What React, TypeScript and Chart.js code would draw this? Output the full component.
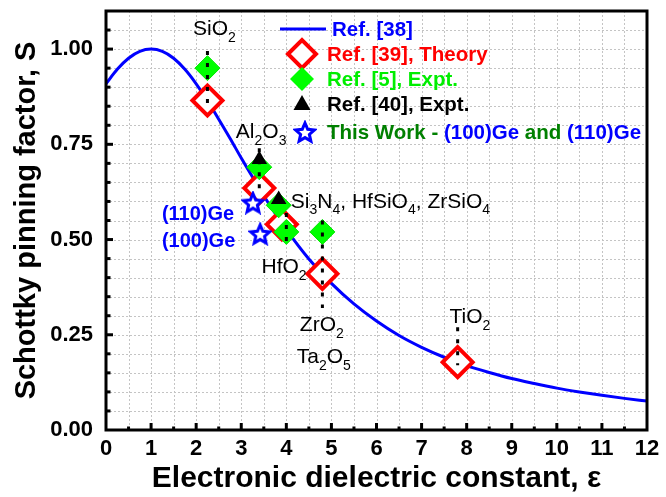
import React, { useEffect, useRef } from 'react';
import { Chart, registerables } from 'chart.js';

Chart.register(...registerables);

const FONT = "'Liberation Sans', Arial, Helvetica, sans-serif";

// Ref. [38] curve
const curveEps = [0, 0.25, 0.5, 0.75, 1, 1.25, 1.5, 1.75, 2, 2.25, 2.5, 2.75, 3, 3.25, 3.5, 3.75, 4, 4.5, 5, 5.5, 6, 6.5, 7, 7.5, 8, 8.5, 9, 9.5, 10, 10.5, 11, 11.5, 12];
const curveS = [0.909, 0.947, 0.976, 0.994, 1.0, 0.994, 0.976, 0.947, 0.909, 0.865, 0.816, 0.766, 0.714, 0.664, 0.615, 0.569, 0.526, 0.449, 0.385, 0.331, 0.286, 0.248, 0.217, 0.191, 0.169, 0.151, 0.135, 0.122, 0.11, 0.1, 0.091, 0.083, 0.076];

// Ref. [39], Theory
const theoryEps = [2.25, 3.4, 3.9, 4.8, 7.8];
const theoryS = [0.865, 0.635, 0.54, 0.41, 0.178];

// Ref. [5], Expt.
const exptEps = [2.25, 3.4, 3.83, 4.0, 4.8];
const exptS = [0.95, 0.69, 0.59, 0.52, 0.52];

// Ref. [40], Expt.
const ref40Eps = [3.4, 3.83];
const ref40S = [0.71, 0.605];

// This work
const workEps = [3.26, 3.42];
const workS = [0.597, 0.515];

// dotted ranges
const rangeEps = [2.25, 3.4, 4.0, 4.8, 7.8];
const rangeLow = [0.84, 0.62, 0.48, 0.32, 0.17];
const rangeHigh = [0.995, 0.74, 0.57, 0.55, 0.27];

const xTicks = [0, 1, 2, 3, 4, 5, 6, 7, 8, 9, 10, 11, 12];
const yTicks = [0, 0.25, 0.5, 0.75, 1.0];

// material labels: [text, isSubscript] parts, anchored at (eps, S)
const matLabels = [
  { eps: 1.93, s: 1.037, parts: [['SiO', 0], ['2', 1]] },
  { eps: 2.88, s: 0.767, parts: [['Al', 0], ['2', 1], ['O', 0], ['3', 1]] },
  { eps: 4.1, s: 0.584, parts: [['Si', 0], ['3', 1], ['N', 0], ['4', 1], [', HfSiO', 0], ['4', 1], [', ZrSiO', 0], ['4', 1]] },
  { eps: 3.45, s: 0.411, parts: [['HfO', 0], ['2', 1]] },
  { eps: 4.3, s: 0.26, parts: [['ZrO', 0], ['2', 1]] },
  { eps: 4.23, s: 0.175, parts: [['Ta', 0], ['2', 1], ['O', 0], ['5', 1]] },
  { eps: 7.62, s: 0.28, parts: [['TiO', 0], ['2', 1]] },
];
const geLabels = ['(110)Ge', '(100)Ge'];
const geLabelEps = [1.24, 1.24];
const geLabelS = [0.552, 0.48];

// canvas is a little taller than the page and shifted up so the plot frame sits where it does in the figure
const SHIFT = 8;

function makeStar(size: number, outerR: number, innerR: number, color: string, lw: number) {
  const c = document.createElement('canvas');
  c.width = size;
  c.height = size;
  const g = c.getContext('2d')!;
  g.beginPath();
  for (let i = 0; i < 10; i++) {
    const r = i % 2 === 0 ? outerR : innerR;
    const a = -Math.PI / 2 + (i * Math.PI) / 5;
    const px = size / 2 + r * Math.cos(a);
    const py = size / 2 + 1 + r * Math.sin(a);
    if (i === 0) g.moveTo(px, py);
    else g.lineTo(px, py);
  }
  g.closePath();
  g.fillStyle = '#ffffff';
  g.fill();
  g.lineWidth = lw;
  g.lineJoin = 'miter';
  g.strokeStyle = color;
  g.stroke();
  return c;
}

function drawRich(ctx: CanvasRenderingContext2D, x: number, y: number, parts: any[], size: number, weight: string, color: string) {
  let cx = x;
  ctx.fillStyle = color;
  ctx.textBaseline = 'alphabetic';
  ctx.textAlign = 'left';
  for (const [t, sub] of parts) {
    if (sub) {
      ctx.font = `${weight} ${Math.round(size * 0.65)}px ${FONT}`;
      ctx.fillText(t, cx, y + size * 0.33);
    } else {
      ctx.font = `${weight} ${size}px ${FONT}`;
      ctx.fillText(t, cx, y);
    }
    cx += ctx.measureText(t).width;
  }
  return cx;
}

export default function App() {
  const ref = useRef<HTMLCanvasElement>(null);

  useEffect(() => {
    document.body.style.margin = '0';
    document.body.style.overflow = 'hidden';
    const star = makeStar(24, 10, 4.6, '#0000ff', 3);

    const decorPlugin = {
      id: 'decor',
      beforeDatasetsDraw(chart: any) {
        const { ctx, chartArea: a, scales } = chart;
        const xs = scales.x;
        const ys = scales.y;
        ctx.save();
        ctx.strokeStyle = '#c4c4c4';
        ctx.lineWidth = 1;
        ctx.setLineDash([2, 2]);
        for (let i = 1; i < 24; i++) {
          const px = Math.round(xs.getPixelForValue(i * 0.5)) + 0.5;
          ctx.beginPath();
          ctx.moveTo(px, a.top);
          ctx.lineTo(px, a.bottom);
          ctx.stroke();
        }
        for (let i = 1; i <= 21; i++) {
          const py = Math.round(ys.getPixelForValue(i * 0.05)) + 0.5;
          ctx.beginPath();
          ctx.moveTo(a.left, py);
          ctx.lineTo(a.right, py);
          ctx.stroke();
        }
        ctx.restore();
      },
      afterDraw(chart: any) {
        const { ctx, chartArea: a, scales } = chart;
        const xs = scales.x;
        const ys = scales.y;
        ctx.save();
        // frame
        ctx.strokeStyle = '#000';
        ctx.lineWidth = 3;
        ctx.setLineDash([]);
        ctx.strokeRect(a.left, a.top, a.right - a.left, a.bottom - a.top);
        // ticks (inward)
        ctx.lineWidth = 3;
        for (let i = 1; i < 24; i++) {
          const px = xs.getPixelForValue(i * 0.5);
          const len = i % 2 === 0 ? 7 : 3.5;
          ctx.beginPath();
          ctx.moveTo(px, a.bottom);
          ctx.lineTo(px, a.bottom - len);
          ctx.stroke();
        }
        for (let i = 1; i <= 21; i++) {
          const py = ys.getPixelForValue(i * 0.05);
          const len = i % 5 === 0 ? 7 : 4.5;
          ctx.beginPath();
          ctx.moveTo(a.left, py);
          ctx.lineTo(a.left + len, py);
          ctx.stroke();
        }
        // material labels
        for (const m of matLabels) {
          drawRich(ctx, xs.getPixelForValue(m.eps), ys.getPixelForValue(m.s), m.parts, 21, 'normal', '#000');
        }
        for (let i = 0; i < geLabels.length; i++) {
          drawRich(ctx, xs.getPixelForValue(geLabelEps[i]), ys.getPixelForValue(geLabelS[i]), [[geLabels[i], 0]], 20, 'bold', '#0000ff');
        }
        // legend
        const lx = a.left + 196;
        const rows = [a.top + 18, a.top + 43, a.top + 68, a.top + 93, a.top + 121];
        ctx.strokeStyle = '#0000ff';
        ctx.lineWidth = 3;
        ctx.beginPath();
        ctx.moveTo(a.left + 174, rows[0]);
        ctx.lineTo(a.left + 220, rows[0]);
        ctx.stroke();
        const diamond = (cx: number, cy: number, r: number) => {
          ctx.beginPath();
          ctx.moveTo(cx - r, cy);
          ctx.lineTo(cx, cy - r);
          ctx.lineTo(cx + r, cy);
          ctx.lineTo(cx, cy + r);
          ctx.closePath();
        };
        diamond(lx, rows[1], 14);
        ctx.fillStyle = '#fff';
        ctx.fill();
        ctx.strokeStyle = '#ff0000';
        ctx.lineWidth = 4;
        ctx.stroke();
        diamond(lx, rows[2], 12);
        ctx.fillStyle = '#00ff00';
        ctx.fill();
        ctx.beginPath();
        ctx.moveTo(lx, rows[3] - 9);
        ctx.lineTo(lx + 8.5, rows[3] + 6);
        ctx.lineTo(lx - 8.5, rows[3] + 6);
        ctx.closePath();
        ctx.fillStyle = '#000';
        ctx.fill();
        ctx.drawImage(star, lx + 3 - 12, rows[4] - 12);

        const tx = a.left + 221;
        const base = 7;
        const lf = 20.5;
        drawRich(ctx, tx + 5, rows[0] + base, [['Ref. [38]', 0]], lf, 'bold', '#0000ff');
        drawRich(ctx, tx, rows[1] + base, [['Ref. [39], Theory', 0]], lf, 'bold', '#ff0000');
        drawRich(ctx, tx, rows[2] + base, [['Ref. [5], Expt.', 0]], lf, 'bold', '#00ee00');
        drawRich(ctx, tx, rows[3] + base, [['Ref. [40], Expt.', 0]], lf, 'bold', '#000');
        let cx = drawRich(ctx, tx, rows[4] + base, [['This Work - ', 0]], lf, 'bold', '#008000');
        cx = drawRich(ctx, cx, rows[4] + base, [['(100)Ge', 0]], lf, 'bold', '#0000ff');
        cx = drawRich(ctx, cx, rows[4] + base, [[' and ', 0]], lf, 'bold', '#008000');
        drawRich(ctx, cx, rows[4] + base, [['(110)Ge', 0]], lf, 'bold', '#0000ff');
        ctx.restore();
      },
    };

    const pts = (xs: number[], ys: number[]) => xs.map((x, i) => ({ x, y: ys[i] }));
    const rangeData: any[] = [];
    rangeEps.forEach((e, i) => {
      rangeData.push({ x: e, y: rangeHigh[i] });
      rangeData.push({ x: e, y: rangeLow[i] });
      rangeData.push({ x: e, y: null });
    });

    const chart = new Chart(ref.current!, {
      type: 'line',
      data: {
        datasets: [
          {
            label: 'ranges',
            data: rangeData,
            borderColor: '#000',
            borderWidth: 3,
            borderDash: [4, 8],
            pointRadius: 0,
            spanGaps: false,
            order: 0,
          },
          {
            label: 'This Work - (100)Ge and (110)Ge',
            data: pts(workEps, workS),
            showLine: false,
            pointStyle: star as any,
            pointRadius: 10,
            order: 1,
          },
          {
            label: 'Ref. [40], Expt.',
            data: pts(ref40Eps, ref40S),
            showLine: false,
            pointStyle: 'triangle',
            pointRadius: 9,
            backgroundColor: '#000',
            borderColor: '#000',
            borderWidth: 0,
            order: 2,
          },
          {
            label: 'Ref. [5], Expt.',
            data: pts(exptEps, exptS),
            showLine: false,
            pointStyle: 'rectRot',
            pointRadius: 12.5,
            backgroundColor: '#00ff00',
            borderColor: '#00e600',
            borderWidth: 1,
            order: 3,
          },
          {
            label: 'Ref. [39], Theory',
            data: pts(theoryEps, theoryS),
            showLine: false,
            pointStyle: 'rectRot',
            pointRadius: 15,
            backgroundColor: '#ffffff',
            borderColor: '#ff0000',
            borderWidth: 4,
            order: 4,
          },
          {
            label: 'Ref. [38]',
            data: pts(curveEps, curveS),
            borderColor: '#0000ff',
            borderWidth: 3,
            pointRadius: 0,
            cubicInterpolationMode: 'monotone',
            order: 5,
          },
        ],
      },
      options: {
        responsive: false,
        animation: false,
        events: [],
        layout: { padding: { left: 0, top: 0, right: 18, bottom: 0 } },
        plugins: { legend: { display: false }, tooltip: { enabled: false } },
        scales: {
          x: {
            type: 'linear',
            min: 0,
            max: 12,
            afterBuildTicks: (s: any) => {
              s.ticks = xTicks.map((v) => ({ value: v }));
            },
            afterFit: (s: any) => {
              s.height = 67;
              s.paddingLeft = 0;
              s.paddingRight = 0;
            },
            grid: { display: false, drawTicks: false },
            border: { display: false },
            ticks: {
              padding: 6,
              color: '#000',
              font: { family: FONT, size: 22, weight: 'bold' },
              maxRotation: 0,
              autoSkip: false,
              callback: (v: any) => String(v),
            },
            title: {
              display: true,
              text: 'Electronic dielectric constant, ε',
              color: '#000',
              font: { family: FONT, size: 30, weight: 'bold' },
              padding: { top: 0, bottom: 0 },
            },
          },
          y: {
            type: 'linear',
            min: 0,
            max: 1.1,
            afterBuildTicks: (s: any) => {
              s.ticks = yTicks.map((v) => ({ value: v }));
            },
            afterFit: (s: any) => {
              s.width = 106;
              s.paddingTop = 0;
              s.paddingBottom = 0;
            },
            grid: { display: false, drawTicks: false },
            border: { display: false },
            ticks: {
              padding: 13,
              color: '#000',
              font: { family: FONT, size: 22, weight: 'bold' },
              autoSkip: false,
              callback: (v: any) => Number(v).toFixed(2),
            },
            title: {
              display: true,
              text: 'Schottky pinning factor, S',
              color: '#000',
              font: { family: FONT, size: 29, weight: 'bold' },
              padding: { top: 10, bottom: 0 },
            },
          },
        },
      } as any,
      plugins: [decorPlugin],
    });
    return () => chart.destroy();
  }, []);

  return (
    <div style={{ width: 666, height: 497, position: 'relative', overflow: 'hidden', background: '#fff' }}>
      <canvas
        ref={ref}
        width={666}
        height={497 + SHIFT}
        style={{ display: 'block', position: 'absolute', left: 0, top: -SHIFT }}
      />
    </div>
  );
}
